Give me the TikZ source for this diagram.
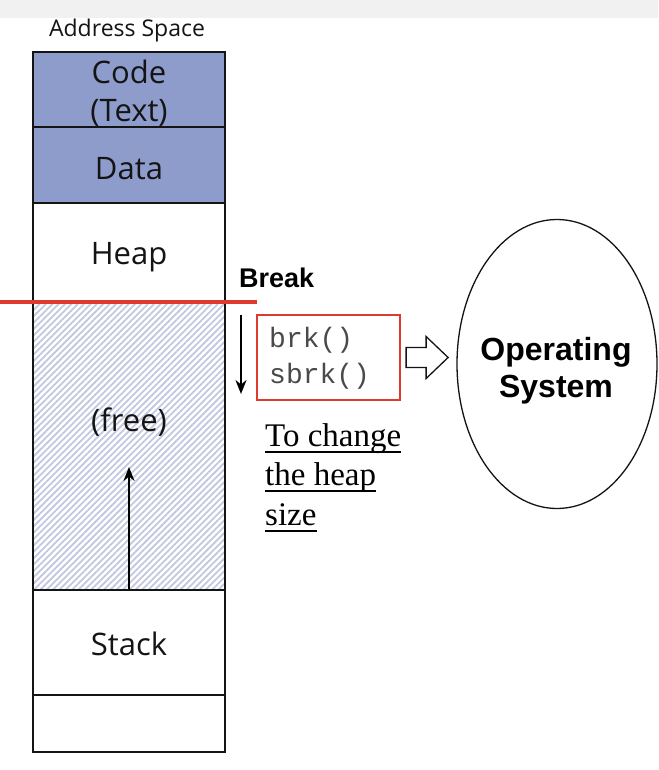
\documentclass[tikz,border=0pt]{standalone}
\usepackage{fontspec}
\setmainfont{Open Sans}
\newfontfamily\arialfont{Liberation Sans}
\newfontfamily\courfont{Liberation Mono}
\newfontfamily\timesfont{Liberation Serif}
\usetikzlibrary{patterns.meta,arrows.meta,shapes.geometric}
\definecolor{codeblue}{HTML}{8E9CCB}
\definecolor{hatchc}{HTML}{C3C8E0}
\definecolor{redc}{HTML}{DF3A30}
\definecolor{inkc}{HTML}{141414}
\definecolor{greyc}{HTML}{4A4A4A}
\definecolor{barc}{HTML}{F1F1F1}
\tikzset{
  seg/.style={draw=inkc, line width=1.8pt, minimum width=192pt, inner sep=0pt},
  segtxt/.style={align=center, text=inkc, inner sep=0pt, font=\fontsize{31}{38}\selectfont},
  arr/.style={-{Stealth[length=14pt,width=11pt]}, line width=2pt, draw=black},
  noteline/.style={anchor=base west, inner sep=0pt, font=\timesfont\fontsize{33}{39.5}\selectfont, text=black},
}
\begin{document}
\begin{tikzpicture}[x=1pt,y=-1pt]
\useasboundingbox (0,0) rectangle (658,770);
\fill[white] (0,0) rectangle (658,770);
\fill[barc] (0,0) rectangle (658,18);
\node[font=\fontsize{23}{27}\selectfont, text=inkc] (title) at (127,31) {Address Space};
% segments
\node[seg, minimum height=75pt, fill=codeblue] (code) at (129,89.5) {};
\node[seg, minimum height=76pt, fill=codeblue] (data) at (129,165) {};
\node[seg, minimum height=99pt] (heap) at (129,252.5) {};
\node[seg, minimum height=288pt, pattern={Lines[angle=45,distance=4.5pt,line width=1.8pt]}, pattern color=hatchc] (free) at (129,446) {};
\node[seg, minimum height=105pt] (stack) at (129,642.5) {};
\node[seg, minimum height=57pt] (bottom) at (129,723.5) {};
\node[segtxt] (codetxt) at (129,93) {Code\\(Text)};
\node[segtxt] (datatxt) at (129,169) {Data};
\node[segtxt] (heaptxt) at (129,257) {Heap};
\node[segtxt] (freelbl) at (129,422) {(free)};
\node[segtxt] (stacktxt) at (129,644) {Stack};
% break line
\coordinate (bl) at (0,302);
\coordinate (br) at (257,302);
\draw[redc, line width=4pt] (bl) -- (br);
\node[anchor=south west, font=\arialfont\bfseries\fontsize{27}{30}\selectfont, inner sep=0pt] (brk) at (239,288) {Break};
% arrows
\coordinate (upend) at (129,467);
\draw[arr] (stack.north) -- (upend);
\coordinate (dtop) at (241,315);
\coordinate (dbot) at (241,394);
\draw[arr] (dtop) -- (dbot);
% red box
\node[draw=redc, line width=2.2pt, minimum width=143pt, minimum height=85pt, inner sep=0pt] (calls) at (328.5,357.5) {};
\node[anchor=west, align=left, text=greyc, font=\courfont\fontsize{28}{36}\selectfont, inner sep=0pt] (callstxt) at (269,358) {brk()\\sbrk()};
% OS ellipse
\node[draw=inkc, line width=1.3pt, ellipse, minimum width=200pt, minimum height=289pt, inner sep=0pt] (os) at (557,364) {};
\node[align=center, font=\arialfont\bfseries\fontsize{32}{37}\selectfont, text=black] (ostxt) at (556,371) {Operating\\System};
% hollow arrow
\draw[line width=1.3pt, draw=inkc, fill=white] (calls.east) ++(5,-10) -- ++(20,0) -- ++(0,-11) -- ++(22,21) -- ++(-22,21) -- ++(0,-11) -- ++(-20,0) -- cycle;
% note
\node[noteline] (n1) at (265,446) {To change};
\node[noteline] (n2) at (265,485) {the heap};
\node[noteline] (n3) at (265,525) {size};
\foreach \n in {n1,n2,n3}
  \draw[line width=1.3pt] ([yshift=-6pt]\n.base west) -- ([yshift=-6pt]\n.base east);
\end{tikzpicture}
\end{document}
